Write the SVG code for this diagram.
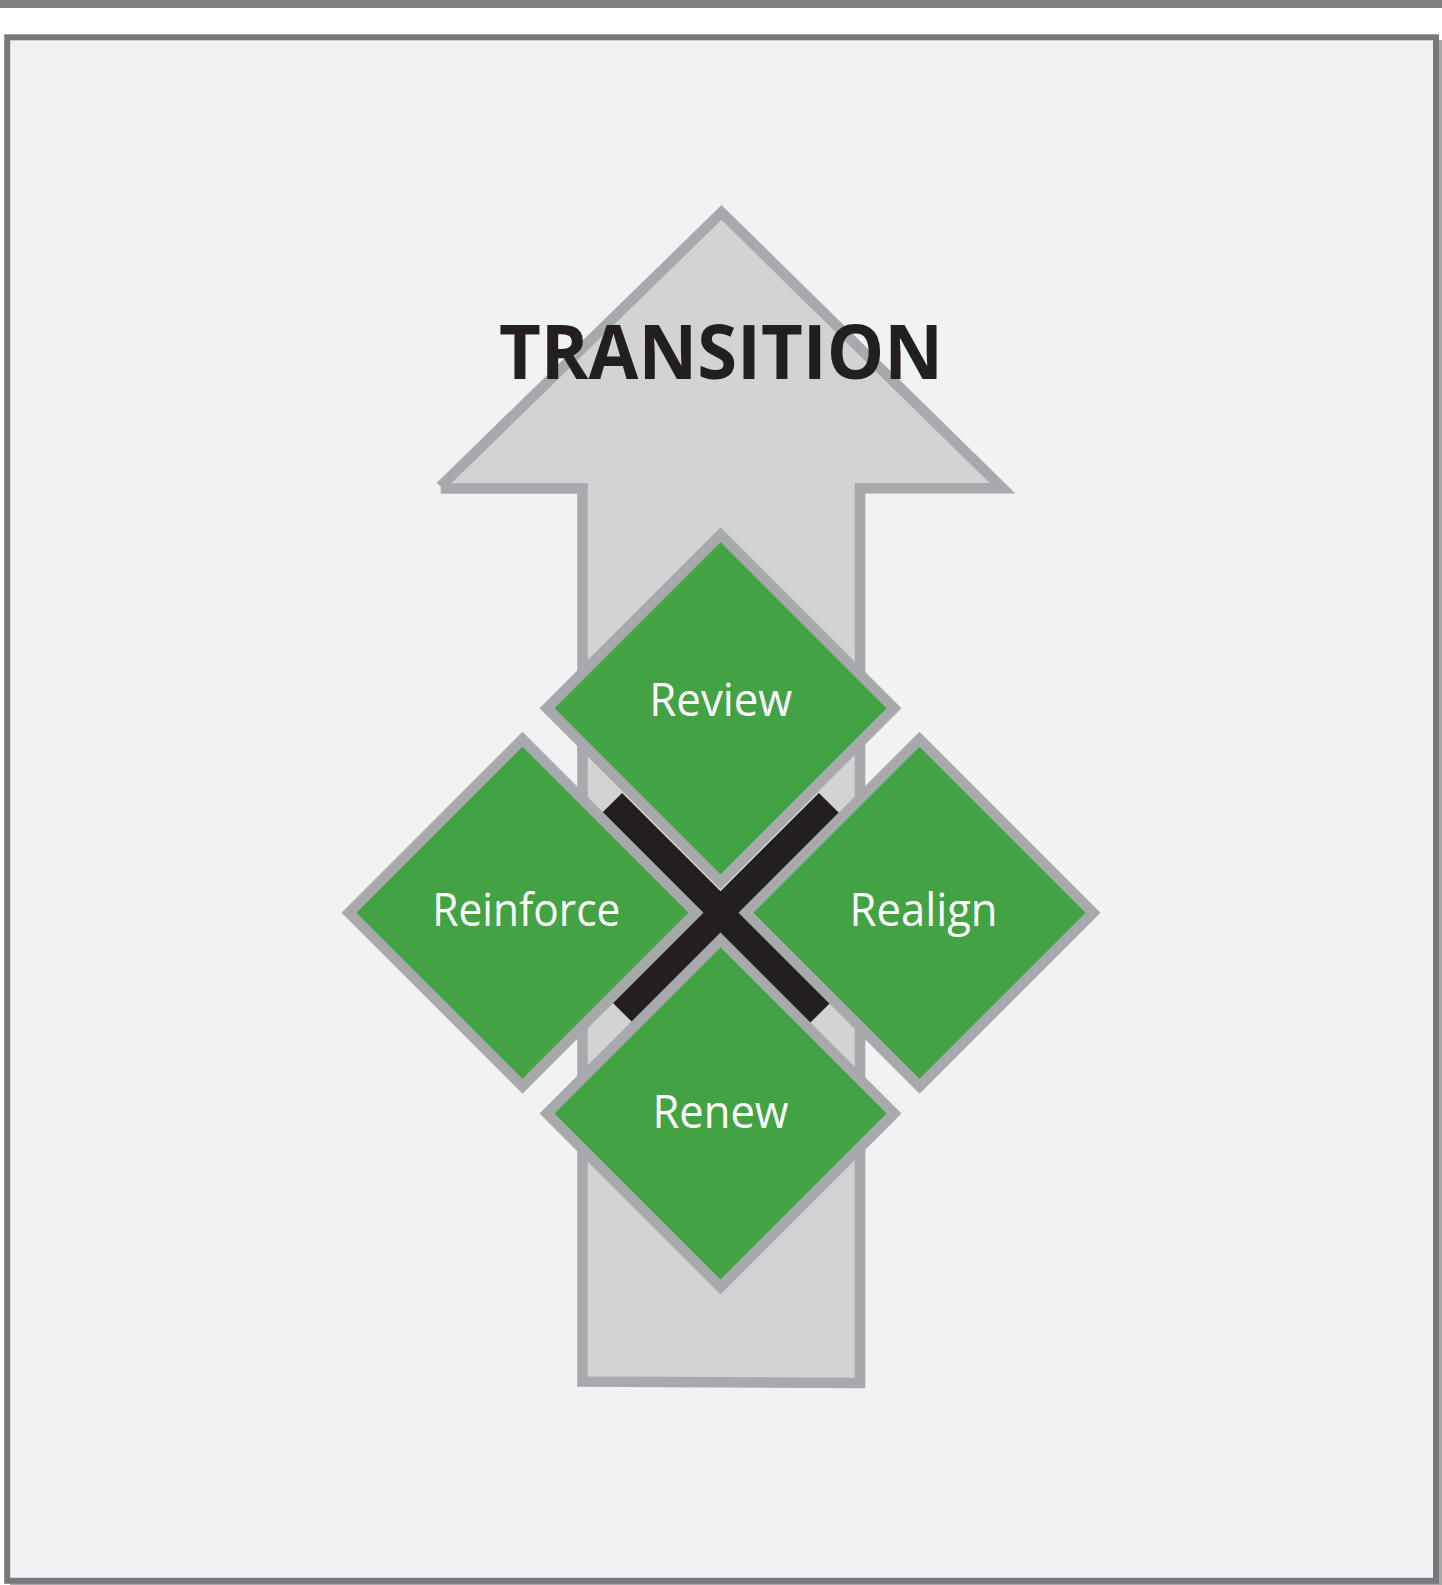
<svg xmlns="http://www.w3.org/2000/svg" width="1442" height="1585" viewBox="0 0 1442 1585">
  <style>
    .band { fill: #808084; }
    .frame { fill: #f1f2f4; stroke: #78787c; stroke-width: 6; }
    .shadow { fill: #a9a9ab; }
    .arrow-fill { fill: #d1d3d4; }
    .arrow-line { fill: none; stroke: #a7a9ac; stroke-width: 10.6; stroke-linejoin: miter; stroke-linecap: butt; }
    .diamond { fill: #43a344; stroke: #a7a9ac; stroke-width: 10.6; stroke-linejoin: miter; }
    .bar { stroke: #231f20; stroke-width: 30; stroke-linecap: butt; fill: none; }
    .label { fill: #ffffff; font-family: "Open Sans", "Noto Sans", "Liberation Sans", sans-serif; font-size: 46px; text-anchor: middle; }
    .title { fill: #231f20; font-family: "Open Sans", "Noto Sans", "Liberation Sans", sans-serif; font-size: 76px; font-weight: bold; text-anchor: middle; }
  </style>

  <!-- page background and frame -->
  <rect x="0" y="0" width="1442" height="1585" fill="#ffffff"/>
  <rect class="band" x="0" y="0" width="1442" height="8"/>
  <rect class="shadow" x="10" y="40" width="1432" height="1545"/>
  <rect class="frame" x="7.2" y="37.3" width="1428.8" height="1543.5"/>

  <!-- upward arrow -->
  <g id="arrow">
    <path class="arrow-fill" d="M441,488.5 L582,488.5 L582,1381.5 L860,1383 L860,488.3 L1002.5,488.3 L721.5,212.5 L441,487 Z"/>
    <path class="arrow-line" d="M440.7,488.5 L582.5,488.5 L582.5,1381.5 L860,1383 L860,488.3 L1002.5,488.3 L721.5,212.5 L440.5,486.5"/>
    <text class="title" x="721" y="378.5" textLength="444" lengthAdjust="spacingAndGlyphs">TRANSITION</text>
  </g>

  <!-- crossing bars behind the four diamonds -->
  <g id="connectors">
    <line class="bar" x1="611.5" y1="803.5" x2="820.5" y2="1012.5"/>
    <line class="bar" x1="829.5" y1="803.5" x2="621.5" y2="1011.5"/>
  </g>

  <g id="review">
    <polygon class="diamond" points="720.5,534.8 894,708.3 720.5,881.8 547,708.3"/>
    <text class="label" x="720.8" y="715.5" textLength="143" lengthAdjust="spacingAndGlyphs">Review</text>
  </g>

  <g id="reinforce">
    <polygon class="diamond" points="522.5,739.2 696,912.7 522.5,1086.2 349,912.7"/>
    <text class="label" x="526.3" y="926.3" textLength="188" lengthAdjust="spacingAndGlyphs">Reinforce</text>
  </g>

  <g id="realign">
    <polygon class="diamond" points="919.5,739.2 1093,912.7 919.5,1086.2 746,912.7"/>
    <text class="label" x="923.6" y="926.3" textLength="148" lengthAdjust="spacingAndGlyphs">Realign</text>
  </g>

  <g id="renew">
    <polygon class="diamond" points="720.5,940 894,1113.5 720.5,1287 547,1113.5"/>
    <text class="label" x="720.5" y="1127.7" textLength="136" lengthAdjust="spacingAndGlyphs">Renew</text>
  </g>
</svg>
